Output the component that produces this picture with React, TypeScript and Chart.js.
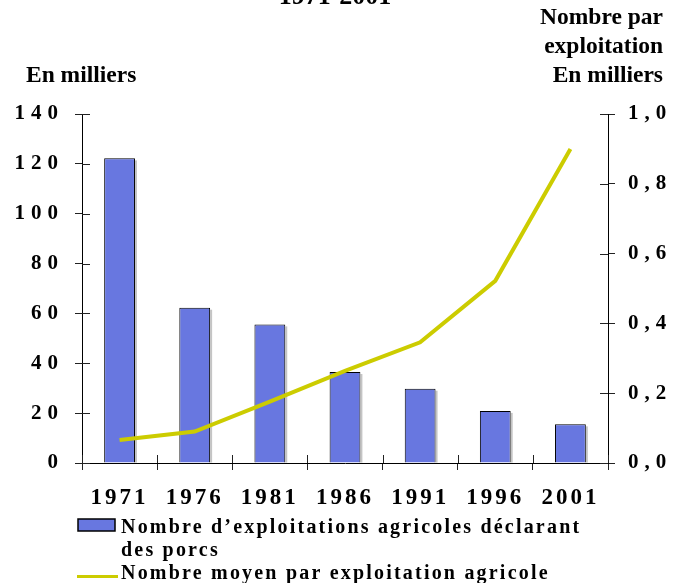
import React, { useEffect, useRef } from 'react';
import { Chart, registerables } from 'chart.js';

Chart.register(...registerables);

const years = ['1971', '1976', '1981', '1986', '1991', '1996', '2001'];
const farmsThousands = [122.2, 62.3, 55.6, 36.5, 29.8, 20.9, 15.5];
const pigsPerFarmThousands = [0.066, 0.09, 0.176, 0.264, 0.346, 0.522, 0.9];
const leftTickValues = [0, 20, 40, 60, 80, 100, 120, 140];
const rightTickValues = [0, 0.2, 0.4, 0.6, 0.8, 1.0];
const chartTitle = '1971-2001';
const leftAxisTitle = ['En milliers'];
const rightAxisTitle = ['Nombre par', 'exploitation', 'En milliers'];
const barLabel = 'Nombre d’exploitations agricoles déclarant des porcs';
const lineLabel = 'Nombre moyen par exploitation agricole';

const SERIF = '"Liberation Serif", "Times New Roman", serif';
const BAR_COLOR = '#6877E0';
const LINE_COLOR = '#CCCC00';

const setSpacing = (ctx: CanvasRenderingContext2D, px: number) => {
  (ctx as any).letterSpacing = px + 'px';
};

const decorPlugin = {
  id: 'decor',
  beforeDraw(chart: any) {
    setSpacing(chart.ctx, 6);
  },
  beforeDatasetsDraw(chart: any) {
    const ctx = chart.ctx as CanvasRenderingContext2D;
    const meta = chart.getDatasetMeta(1);
    ctx.save();
    ctx.fillStyle = '#c4c4c4';
    meta.data.forEach((el: any) => {
      const w = el.width;
      ctx.fillRect(el.x + w / 2, el.y + 2, 2, el.base - el.y - 2);
    });
    ctx.restore();
  },
  afterDatasetsDraw(chart: any) {
    setSpacing(chart.ctx, 3);
  },
  afterDraw(chart: any) {
    const ctx = chart.ctx as CanvasRenderingContext2D;
    const { x, y, y1 } = chart.scales;
    const area = chart.chartArea;
    ctx.save();
    setSpacing(ctx, 0);
    // inner tick marks (ticks cross the axes)
    ctx.strokeStyle = '#222';
    ctx.lineWidth = 1;
    ctx.beginPath();
    y.ticks.forEach((t: any) => {
      const py = Math.round(y.getPixelForValue(t.value)) + 0.5;
      ctx.moveTo(area.left, py);
      ctx.lineTo(area.left + 8, py);
    });
    y1.ticks.forEach((t: any) => {
      const py = Math.round(y1.getPixelForValue(t.value)) + 0.5;
      ctx.moveTo(area.right - 8, py);
      ctx.lineTo(area.right, py);
    });
    for (let i = 0; i <= years.length; i++) {
      const px = Math.round(x.getPixelForValue(i - 0.5)) + 0.5;
      ctx.moveTo(px, area.bottom - 8);
      ctx.lineTo(px, area.bottom);
    }
    ctx.stroke();

    // titles
    ctx.fillStyle = '#000';
    ctx.textBaseline = 'alphabetic';
    ctx.font = `bold 26px ${SERIF}`;
    ctx.textAlign = 'center';
    ctx.fillText(chartTitle, 335, 4);

    ctx.font = `bold 23.5px ${SERIF}`;
    ctx.textAlign = 'left';
    leftAxisTitle.forEach((t, i) => ctx.fillText(t, 26, 82 + i * 29));
    ctx.textAlign = 'right';
    rightAxisTitle.forEach((t, i) => ctx.fillText(t, 663, 24 + i * 29));

    // legend
    const ds0 = chart.data.datasets[1];
    const ds1 = chart.data.datasets[0];
    ctx.font = `bold 20px ${SERIF}`;
    setSpacing(ctx, 2.2);
    ctx.textAlign = 'left';
    const textX = 121;
    const maxW = 470;
    const wrap = (text: string) => {
      const words = text.split(' ');
      const lines: string[] = [];
      let cur = '';
      words.forEach((w) => {
        const test = cur ? cur + ' ' + w : w;
        if (ctx.measureText(test).width > maxW && cur) {
          lines.push(cur);
          cur = w;
        } else cur = test;
      });
      if (cur) lines.push(cur);
      return lines;
    };
    // bar item
    ctx.fillStyle = ds0.backgroundColor;
    ctx.fillRect(78, 519, 37, 12);
    ctx.strokeStyle = '#000';
    ctx.lineWidth = 1.5;
    ctx.strokeRect(78, 519, 37, 12);
    ctx.fillStyle = '#000';
    wrap(ds0.label).forEach((l, i) => ctx.fillText(l, textX, 533 + i * 23));
    // line item
    ctx.strokeStyle = ds1.borderColor;
    ctx.lineWidth = 3;
    ctx.beginPath();
    ctx.moveTo(77, 576.5);
    ctx.lineTo(118, 576.5);
    ctx.stroke();
    ctx.fillStyle = '#000';
    ctx.fillText(ds1.label, textX, 579);
    ctx.restore();
  },
};

export default function App() {
  const canvasRef = useRef<HTMLCanvasElement | null>(null);

  useEffect(() => {
    const canvas = canvasRef.current;
    if (!canvas) return;
    const chart = new Chart(canvas, {
      type: 'bar',
      data: {
        labels: years,
        datasets: [
          {
            type: 'line',
            label: lineLabel,
            data: pigsPerFarmThousands,
            yAxisID: 'y1',
            borderColor: LINE_COLOR,
            backgroundColor: LINE_COLOR,
            borderWidth: 4,
            pointRadius: 0,
            tension: 0,
            order: 0,
          } as any,
          {
            type: 'bar',
            label: barLabel,
            data: farmsThousands,
            yAxisID: 'y',
            backgroundColor: BAR_COLOR,
            borderColor: '#000',
            borderWidth: 1,
            barPercentage: 0.41,
            categoryPercentage: 1,
            order: 1,
          } as any,
        ],
      },
      options: {
        responsive: false,
        animation: false,
        devicePixelRatio: 1,
        layout: { padding: { top: 114, left: 0, right: 0, bottom: 0 } },
        plugins: {
          legend: { display: false },
          title: { display: false },
          tooltip: { enabled: false },
        },
        scales: {
          x: {
            offset: true,
            grid: {
              offset: true,
              drawOnChartArea: false,
              drawTicks: true,
              tickLength: 7,
              color: '#222',
            },
            border: { display: true, color: '#000', width: 1 },
            ticks: {
              z: 1,
              autoSkip: false,
              maxRotation: 0,
              minRotation: 0,
              padding: 14,
              color: '#000',
              font: { family: SERIF, size: 23, weight: 'bold' },
            },
            afterFit: (s: any) => {
              s.height = 120;
            },
          },
          y: {
            position: 'left',
            min: 0,
            max: 140,
            afterBuildTicks: (s: any) => {
              s.ticks = leftTickValues.map((v) => ({ value: v }));
            },
            grid: { drawOnChartArea: false, drawTicks: true, tickLength: 7, color: '#222' },
            border: { display: true, color: '#000', width: 1 },
            ticks: {
              padding: 11,
              color: '#000',
              font: { family: SERIF, size: 21, weight: 'bold' },
              callback: (v: any) => String(v),
            },
            afterFit: (s: any) => {
              s.width = 82;
            },
          },
          y1: {
            position: 'right',
            min: 0,
            max: 1,
            afterBuildTicks: (s: any) => {
              s.ticks = rightTickValues.map((v) => ({ value: v }));
            },
            grid: { drawOnChartArea: false, drawTicks: true, tickLength: 7, color: '#222' },
            border: { display: true, color: '#000', width: 1 },
            ticks: {
              padding: 13,
              color: '#000',
              font: { family: SERIF, size: 21, weight: 'bold' },
              callback: (v: any) => Number(v).toFixed(1).replace('.', ','),
            },
            afterFit: (s: any) => {
              s.width = 71;
            },
          },
        },
      } as any,
      plugins: [decorPlugin],
    });
    return () => chart.destroy();
  }, []);

  return (
    <div style={{ position: 'absolute', left: 0, top: 0, width: 679, height: 583, background: '#fff' }}>
      <canvas ref={canvasRef} width={679} height={583} style={{ display: 'block', width: 679, height: 583 }} />
    </div>
  );
}
